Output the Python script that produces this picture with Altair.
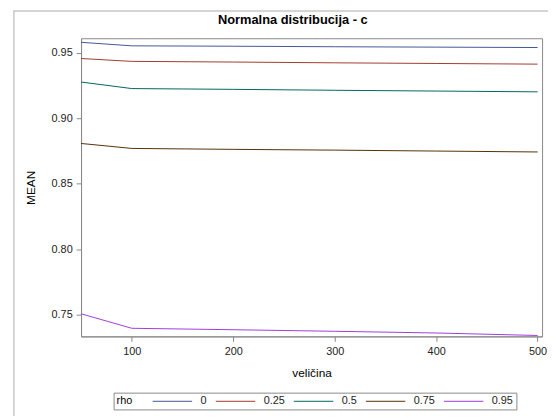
import altair as alt
import pandas as pd

velicina = [50, 100, 200, 300, 400, 500]
rho_levels = ["0", "0.25", "0.5", "0.75", "0.95"]
mean_rho_0 = [0.9582, 0.9555, 0.9552, 0.9548, 0.9545, 0.9542]
mean_rho_025 = [0.9458, 0.9436, 0.9431, 0.9425, 0.9420, 0.9415]
mean_rho_05 = [0.9278, 0.9228, 0.9222, 0.9215, 0.9209, 0.9203]
mean_rho_075 = [0.8808, 0.8770, 0.8763, 0.8757, 0.8750, 0.8743]
mean_rho_095 = [0.7505, 0.7394, 0.7383, 0.7371, 0.7358, 0.7339]
colors = ["#445694", "#A23A2E", "#01665E", "#543005", "#9D3CDB"]

series = [mean_rho_0, mean_rho_025, mean_rho_05, mean_rho_075, mean_rho_095]
rows = []
for r, vals in zip(rho_levels, series):
    for v, m in zip(velicina, vals):
        rows.append({"velicina": v, "MEAN": m, "rho": r})
df = pd.DataFrame(rows)

FONT = "Liberation Sans"

lines = alt.Chart(df).mark_line(strokeWidth=1, clip=True).encode(
    x=alt.X("velicina:Q", title="veličina",
            scale=alt.Scale(domain=[50, 504.4], nice=False, zero=False),
            axis=alt.Axis(values=[100, 200, 300, 400, 500], grid=False,
                          tickSize=5, labelPadding=4, titlePadding=12)),
    y=alt.Y("MEAN:Q", title="MEAN",
            scale=alt.Scale(domain=[0.7332, 0.9613], nice=False, zero=False),
            axis=alt.Axis(values=[0.75, 0.80, 0.85, 0.90, 0.95], format=".2f",
                          grid=False, tickSize=5, labelPadding=4, titlePadding=14)),
    color=alt.Color("rho:N", scale=alt.Scale(domain=rho_levels, range=colors),
                    sort=rho_levels,
                    legend=alt.Legend(orient="none", legendX=33, legendY=359,
                                      direction="horizontal", titleOrient="left",
                                      titleBaseline="middle", titleAnchor="middle",
                                      symbolType="M-5,0L5,0", symbolSize=64,
                                      symbolStrokeWidth=1, labelOffset=23,
                                      columnPadding=6, titlePadding=35,
                                      padding=3, strokeColor="#888888")),
)

frame = alt.Chart(pd.DataFrame({"a": [0]})).mark_rect(
    fill="white", fillOpacity=0, stroke="#c8c8c8", strokeWidth=1.5, clip=False
).encode(
    x=alt.value(-68), x2=alt.value(600), y=alt.value(-27.5), y2=alt.value(420)
)

chart = alt.layer(frame, lines).properties(
    width=467, height=302,
    autosize=alt.AutoSizeParams(type="none"),
    padding={"left": 74, "top": 28, "right": 6, "bottom": 78},
    title=alt.TitleParams("Normalna distribucija - c", fontSize=13,
                          fontWeight="bold", font=FONT, color="#000000",
                          anchor="middle", dx=-19, offset=-17, zindex=5),
).configure_view(
    stroke="#888888", strokeWidth=1
).configure_axis(
    domainColor="#888888", tickColor="#888888", labelColor="#222222",
    labelFont=FONT, labelFontSize=11, titleFont=FONT, titleFontSize=12,
    titleFontWeight="normal", titleColor="#000000"
).configure_legend(
    labelFont=FONT, labelFontSize=11, titleFont=FONT, titleFontSize=11,
    titleFontWeight="normal", labelColor="#222222", titleColor="#000000"
)

chart.save("out.html", embed_options={"renderer": "svg", "actions": False})
